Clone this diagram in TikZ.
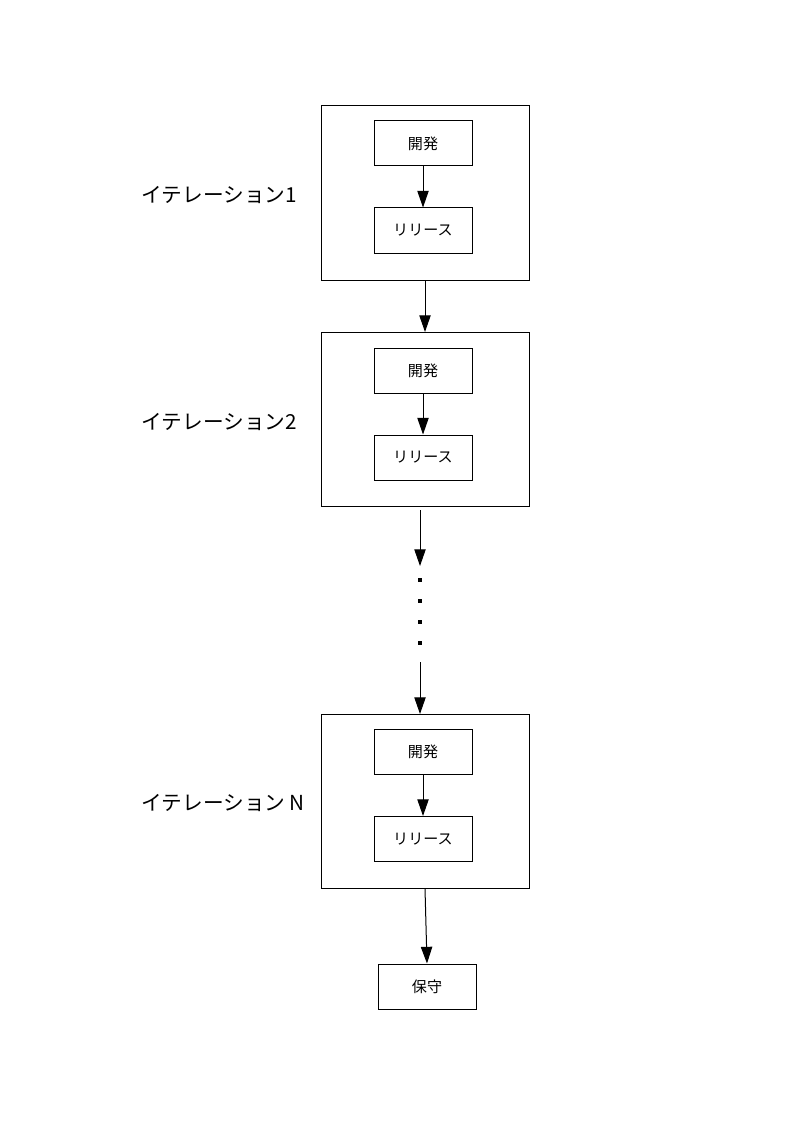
\documentclass[tikz,border=0pt]{standalone}
\usepackage{fontspec}
\setmainfont{Noto Sans CJK JP}
\usetikzlibrary{arrows.meta}
\begin{document}
\begin{tikzpicture}[x=0.75pt,y=-0.75pt,
  line width=0.75pt,
  phase/.style={draw,minimum width=73.5pt,minimum height=33.75pt,inner sep=0pt,font=\fontsize{11.3}{13}\selectfont},
  iter/.style={draw,minimum width=156pt,minimum height=130.5pt,inner sep=0pt},
  itlabel/.style={anchor=west,inner sep=0pt,font=\fontsize{15.5}{18}\selectfont},
  flow/.style={-{Triangle[length=12.5pt,width=8.5pt]}},
  dotmark/.style={fill,minimum size=3.3pt,inner sep=0pt}]
\useasboundingbox (0,0) rectangle (794,1123);

% iteration 1
\node[iter] (it1) at (425,193) {};
\node[phase] (dev1) at (423,143.5) {開発};
\node[phase] (rel1) at (423,230.5) {リリース};
\node[itlabel] (lab1) at (141,195) {イテレーション1};
\draw[flow] (dev1) -- (rel1);

% iteration 2
\node[iter] (it2) at (425,419.5) {};
\node[phase] (dev2) at (423,370.5) {開発};
\node[phase] (rel2) at (423,457.5) {リリース};
\node[itlabel] (lab2) at (141,422) {イテレーション2};
\draw[flow] (dev2) -- (rel2);

\draw[flow] (it1) -- (it2);

% iteration N
\node[iter] (itN) at (425,801) {};
\node[phase] (devN) at (423,752) {開発};
\node[phase] (relN) at (423,839) {リリース};
\node[itlabel] (labN) at (141,803) {イテレーション N};
\draw[flow] (devN) -- (relN);

% omitted iterations
\coordinate (gapA) at (420,510);
\coordinate (gapB) at (420,566);
\coordinate (gapC) at (420,662);
\coordinate (gapD) at (420,714);
\draw[flow] (gapA) -- (gapB);
\draw[flow] (gapC) -- (gapD);
\node[dotmark] (d1) at (420,580) {};
\node[dotmark] (d2) at (420,601) {};
\node[dotmark] (d3) at (420,622) {};
\node[dotmark] (d4) at (420,643) {};

% maintenance
\node[phase] (maint) at (427,986.5) {保守};
\draw[flow] (itN.south) -- (maint.north);
\end{tikzpicture}
\end{document}
